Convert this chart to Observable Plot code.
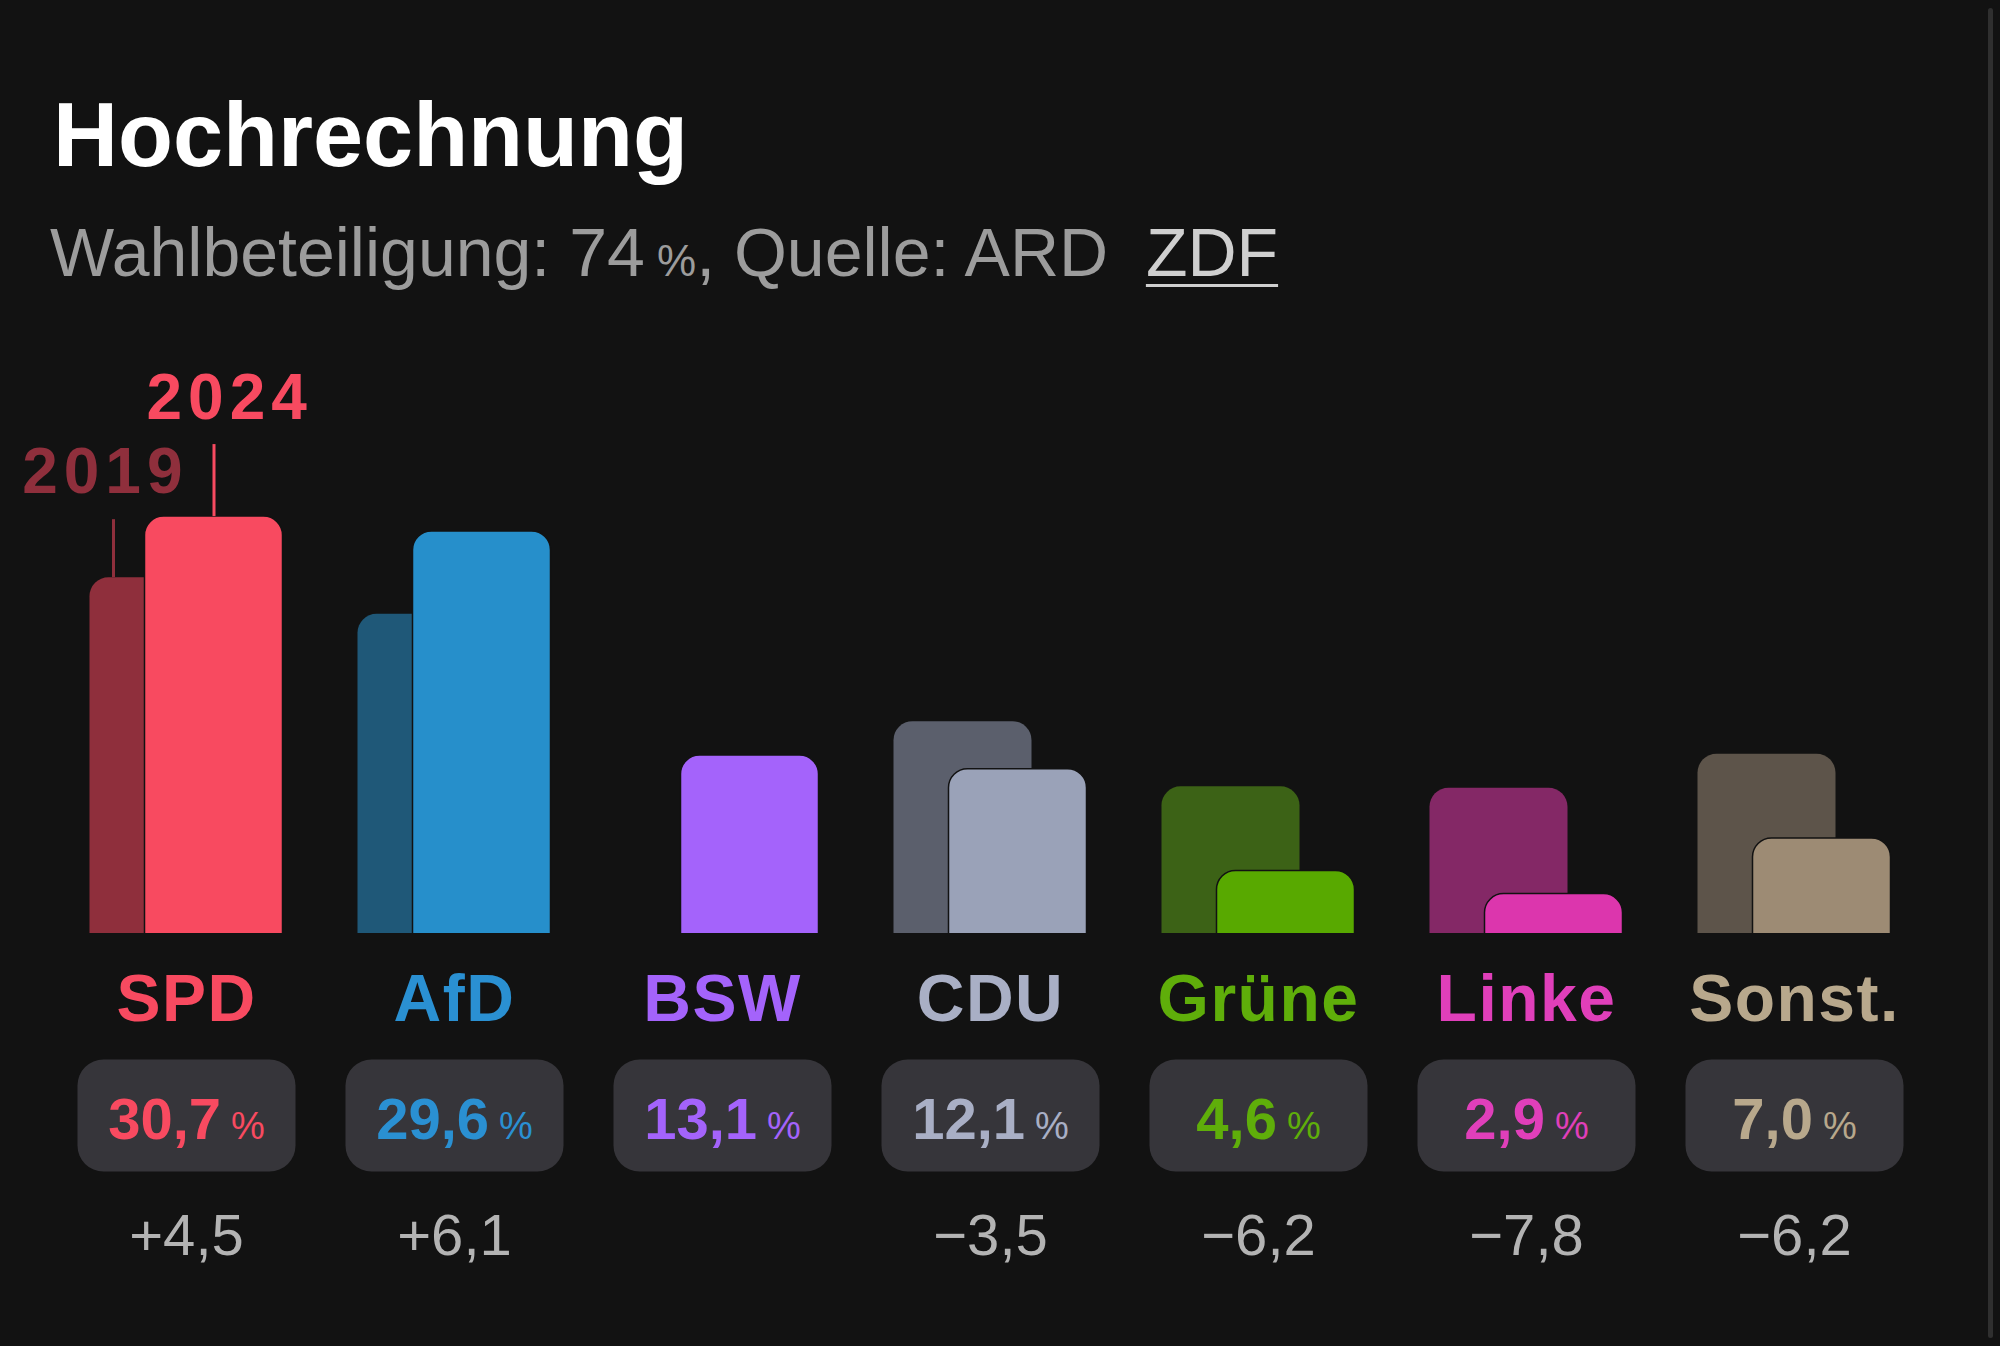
<!DOCTYPE html>
<html lang="de">
<head>
<meta charset="utf-8">
<script src="https://cdn.jsdelivr.net/npm/d3@7"></script>
<script src="https://cdn.jsdelivr.net/npm/@observablehq/plot@0.6"></script>
<style>
  html, body { margin: 0; padding: 0; background: #121212; width: 2000px; height: 1346px; overflow: hidden; }
  body { position: relative; font-family: "Liberation Sans", Arial, sans-serif; }
  #title { position: absolute; left: 53px; top: 90px; font-size: 90px; line-height: 90px; font-weight: 700; color: #ffffff; }
  #subtitle { position: absolute; left: 50px; top: 218px; font-size: 68px; line-height: 68px; color: #9c9c9c; white-space: nowrap; }
  #subtitle .pct { font-size: 44px; }
  #subtitle u { color: #cfcfcf; text-decoration-thickness: 3px; text-underline-offset: 8px; }
  #chart { position: absolute; left: 0; top: 300px; }
  #edge { position: absolute; left: 1988px; top: 8px; width: 5px; height: 1330px; background: #2f2f2f; border-radius: 3px; }
</style>
</head>
<body>
<div id="title">Hochrechnung</div>
<div id="subtitle">Wahlbeteiligung: 74<span class="pct"> %</span>, Quelle: ARD&nbsp; <u>ZDF</u></div>
<div id="chart"></div>
<div id="edge"></div>
<script>
// ---- data ----
const parties     = ["SPD", "AfD", "BSW", "CDU", "Grüne", "Linke", "Sonst."];
const share2024   = [30.7, 29.6, 13.1, 12.1, 4.6, 2.9, 7.0];
const share2019   = [26.2, 23.5, null, 15.6, 10.8, 10.7, 13.2];
const color2024   = ["#f84a60", "#268fcb", "#a463fb", "#9aa2b8", "#58a900", "#dc36ad", "#9d8b74"];
const color2019   = ["#8f2f3c", "#1f5878", null, "#5b5f6c", "#3c6216", "#842866", "#5d544a"];
const labelColors = ["#f84a60", "#2a90d2", "#a463fb", "#a9afc5", "#5fae0a", "#e03fba", "#b8a88c"];
const yearLabels  = ["2019", "2024"];

const fmt = v => v.toFixed(1).replace(".", ",");
const fmtDiff = v => (v > 0 ? "+" : "\u2212") + fmt(Math.abs(v));

const rows = parties.map((p, i) => ({
  party: p,
  v2024: share2024[i],
  v2019: share2019[i],
  c2024: color2024[i],
  c2019: color2019[i],
  label: labelColors[i],
  diff: share2019[i] == null ? null : Math.round((share2024[i] - share2019[i]) * 10) / 10
}));
const prev = rows.filter(d => d.v2019 != null);
const first = [rows[0]];

const font = "Liberation Sans, Arial, sans-serif";

const pill = {
  draw(ctx) {
    const w = 109, h = 56, r = 26;
    ctx.moveTo(-w + r, -h);
    ctx.lineTo(w - r, -h);
    ctx.arcTo(w, -h, w, -h + r, r);
    ctx.lineTo(w, h - r);
    ctx.arcTo(w, h, w - r, h, r);
    ctx.lineTo(-w + r, h);
    ctx.arcTo(-w, h, -w, h - r, r);
    ctx.lineTo(-w, -h + r);
    ctx.arcTo(-w, -h, -w + r, -h, r);
    ctx.closePath();
  }
};

const plot = Plot.plot({
  width: 1980,
  height: 1033,
  marginLeft: 52,
  marginRight: 52,
  marginTop: 212,
  marginBottom: 400,
  style: {background: "transparent", fontFamily: font},
  x: {domain: parties, padding: 0, axis: null},
  y: {domain: [0, 31], axis: null},
  color: {type: "identity"},
  marks: [
    // 2019 bars (behind)
    Plot.barY(prev, {x: "party", y: "v2019", fill: "c2019", insetLeft: 37.5, insetRight: 92.5, insetBottom: -30, rx: 19, clip: true}),
    // 2024 bars
    Plot.barY(rows, {x: "party", y: "v2024", fill: "c2024", stroke: "#121212", strokeWidth: 1.5, insetLeft: 92.5, insetRight: 37.5, insetBottom: -30, rx: 19, clip: true}),
    // year ticks + labels (first party only)
    Plot.ruleX(first, {x: "party", y1: "v2019", y2: "v2019", insetTop: -58, dx: -73, stroke: "c2019", strokeWidth: 3}),
    Plot.ruleX(first, {x: "party", y1: "v2024", y2: "v2024", insetTop: -72, dx: 27.5, stroke: "c2024", strokeWidth: 3}),
    Plot.text(first, {x: "party", y: "v2019", text: () => yearLabels[0], dx: 2, dy: -85, textAnchor: "end", lineAnchor: "bottom", fill: "c2019", fontSize: 64, fontWeight: 700}),
    Plot.text(first, {x: "party", y: "v2024", text: () => yearLabels[1], dx: -40, dy: -98, textAnchor: "start", lineAnchor: "bottom", fill: "c2024", fontSize: 64, fontWeight: 700}),
    // party names
    Plot.text(rows, {x: "party", text: "party", frameAnchor: "bottom", lineAnchor: "bottom", dy: 87, fill: "label", fontSize: 66, fontWeight: 700}),
    // pills
    Plot.dot(rows, {x: "party", frameAnchor: "bottom", dy: 182, symbol: pill, fill: "#36353a", stroke: "none"}),
    Plot.text(rows, {x: "party", text: d => fmt(d.v2024) + " %", frameAnchor: "bottom", lineAnchor: "bottom", dy: 205, fill: "label", fontSize: 58, fontWeight: 700}),
    // differences
    Plot.text(rows.filter(d => d.diff != null), {x: "party", text: d => fmtDiff(d.diff), frameAnchor: "bottom", lineAnchor: "bottom", dy: 321, fill: "#b3b3b3", fontSize: 58})
  ]
});

// typographic touches on Plot's text elements
const svgNS = "http://www.w3.org/2000/svg";
plot.querySelectorAll("text").forEach(t => {
  const s = t.textContent;
  if (yearLabels.includes(s)) {
    t.style.letterSpacing = "6px";
  } else if (parties.includes(s)) {
    t.style.letterSpacing = "1.5px";
  } else if (s.endsWith(" %")) {
    const num = s.slice(0, s.length - 2);
    t.textContent = "";
    const a = document.createElementNS(svgNS, "tspan");
    a.textContent = num;
    const b = document.createElementNS(svgNS, "tspan");
    b.textContent = "%";
    b.style.fontSize = "38px";
    b.style.fontWeight = "400";
    b.setAttribute("dx", "10");
    t.appendChild(a);
    t.appendChild(b);
  }
});

document.getElementById("chart").appendChild(plot);
</script>
</body>
</html>
